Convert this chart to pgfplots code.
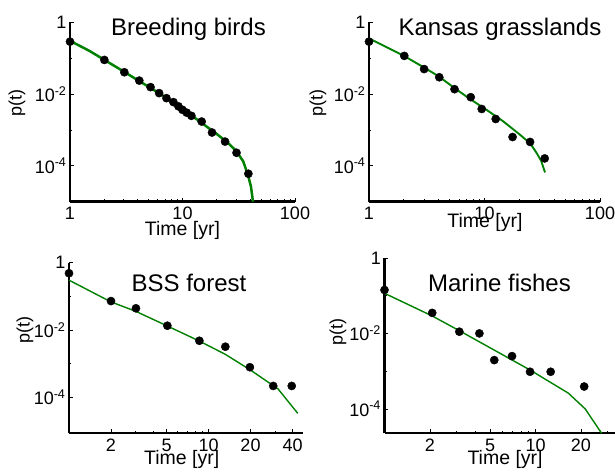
\documentclass[border=0pt]{standalone}
\usepackage{fontspec}
\setmainfont{Liberation Sans}
\usepackage{pgfplots}
\pgfplotsset{compat=1.18}
\definecolor{fitgreen}{RGB}{0,128,0}
\pgfplotsset{
  mypanel/.style={
    scale only axis,
    axis lines=left, axis line style={-, black, line width=2.1bp},
    tick align=inside, tick style={black, line width=0.6bp},
    major tick length=4bp, minor tick length=2.5bp,
    anchor=south west, clip=false,
    ytick={1,1e-2,1e-4}, yticklabels={1,10\textsuperscript{-2},10\textsuperscript{-4}},
    minor ytick={1e-1,1e-3},
    tick label style={font=\fontsize{18bp}{20bp}\selectfont},
    xticklabel style={yshift=-2bp},
    xlabel style={font=\fontsize{19.5bp}{21bp}\selectfont, anchor=center},
    ylabel style={font=\fontsize{18bp}{20bp}\selectfont, anchor=center},
  },
  mydots/.style={only marks, mark=*, mark size=4.1bp, black},
  myfit/.style={no marks, fitgreen, line width=1.4bp},
}
\begin{document}
\begin{tikzpicture}
\path[use as bounding box] (0,0) rectangle (615bp,472bp);
% Panel 1: Breeding birds
\begin{loglogaxis}[mypanel, at={(70bp,270.3bp)}, width=225bp, height=179.7bp,
  axis line style={line width=2.7bp},
  xmin=1, xmax=100, ymin=1e-5, ymax=1,
  xtick={1,10,100}, xticklabels={1,10,100},
  minor xtick={2,3,4,5,6,7,8,9,20,30,40,50,60,70,80,90},
  xlabel={Time [yr]}, ylabel={p(t)},
  xlabel style={at={(axis description cs:0.5,-0.16)}},
  ylabel style={at={(axis description cs:-0.236,0.55)}}]
\addplot[myfit, line width=2.5bp] coordinates {(1,0.30)(1.5,0.155)(2,0.090)(3,0.042)(4,0.024)(5,0.0158)(7,0.0082)(10,0.0038)(13,0.0021)(16,0.0013)(20,7.8e-4)(25,4.5e-4)(30,2.6e-4)(34.7,1.32e-4)(38.5,5.0e-5)(40.6,2.66e-5)(42.3,1e-5)};
\addplot[mydots] coordinates {(1,0.284)(2.02,0.088)(3.04,0.040)(4.13,0.0234)(5.2,0.0154)(6.2,0.0105)(7.2,0.0076)(8.3,0.0059)(9.2,0.0045)(10,0.0036)(10.9,0.0030)(12,0.00245)(14.8,0.0017)(18.3,8.4e-4)(23.9,4.7e-4)(30.2,2.3e-4)(38.5,6e-5)};
\end{loglogaxis}
% Panel 2: Kansas grasslands
\begin{loglogaxis}[mypanel, at={(369bp,270.3bp)}, width=231bp, height=179.7bp,
  axis line style={line width=2.7bp},
  xmin=1, xmax=100, ymin=1e-5, ymax=1,
  xtick={1,10,100}, xticklabels={1,10,100},
  minor xtick={2,3,4,5,6,7,8,9,20,30,40,50,60,70,80,90},
  xlabel={Time [yr]}, ylabel={p(t)},
  xlabel style={at={(axis description cs:0.502,-0.113)}},
  ylabel style={at={(axis description cs:-0.221,0.55)}}]
\addplot[myfit, line width=1.9bp] coordinates {(1,0.35)(2,0.115)(3,0.054)(4,0.031)(5.5,0.0145)(7.5,0.0072)(10.4,0.0036)(14.6,0.0017)(20.3,7.3e-4)(25,4.1e-4)(28.3,2.25e-4)(31,1.35e-4)(33.4,6.5e-5)};
\addplot[mydots] coordinates {(1,0.284)(2.02,0.114)(3.0,0.049)(4.06,0.029)(5.5,0.0135)(7.6,0.0081)(9.46,0.0038)(12.5,0.0020)(17.5,6.3e-4)(24.8,4.6e-4)(33.2,1.6e-4)};
\end{loglogaxis}
% Panel 3: BSS forest
\begin{loglogaxis}[mypanel, at={(69bp,38.7bp)}, width=234.3bp, height=170.8bp,
  xmin=1, xmax=47.8, ymin=8.7e-6, ymax=1,
  xtick={2,5,10,20,40}, xticklabels={2,5,10,20,40},
  minor xtick={3,4,6,7,8,9,30},
  xlabel={Time [yr]}, ylabel={p(t)},
  xlabel style={at={(axis description cs:0.481,-0.156)}},
  ylabel style={at={(axis description cs:-0.188,0.605)}}]
\addplot[myfit] coordinates {(1,0.30)(2,0.068)(3,0.036)(5,0.0135)(8.6,0.0047)(13.2,0.0019)(20,6.5e-4)(31.5,1.8e-4)(43.6,3.4e-5)};
\addplot[mydots] coordinates {(1,0.48)(2,0.072)(3.02,0.044)(5.07,0.0134)(8.6,0.0048)(13.2,0.0032)(19.8,7.9e-4)(29.1,2.2e-4)(39.5,2.2e-4)};
\end{loglogaxis}
% Panel 4: Marine fishes
\begin{loglogaxis}[mypanel, at={(384.5bp,38.7bp)}, width=230.5bp, height=175.3bp,
  xmin=1, xmax=33.6, ymin=2.24e-5, ymax=1,
  xtick={2,5,10,20}, xticklabels={2,5,10,20},
  minor xtick={3,4,6,7,8,9,30},
  xlabel={Time [yr]}, ylabel={p(t)},
  xlabel style={at={(axis description cs:0.523,-0.152)}},
  ylabel style={at={(axis description cs:-0.202,0.578)}}]
\addplot[myfit] coordinates {(1,0.116)(2.07,0.029)(3.13,0.0118)(9.2,0.00107)(16.5,2.6e-4)(21.3,1.0e-4)(27.4,2.24e-5)};
\addplot[mydots] coordinates {(1,0.142)(2.07,0.035)(3.13,0.0111)(4.25,0.0100)(5.33,0.00196)(6.99,0.0025)(9.2,9.6e-4)(12.6,9.6e-4)(21.0,3.9e-4)};
\end{loglogaxis}
\begin{scope}[every node/.style={font=\fontsize{24bp}{28bp}\selectfont, inner sep=0pt}]
\node at (188.5bp,443bp) {Breeding birds};
\node at (500bp,443bp) {Kansas grasslands};
\node at (189bp,189bp) {BSS forest};
\node at (499.5bp,189bp) {Marine fishes};
\end{scope}
\end{tikzpicture}
\end{document}
